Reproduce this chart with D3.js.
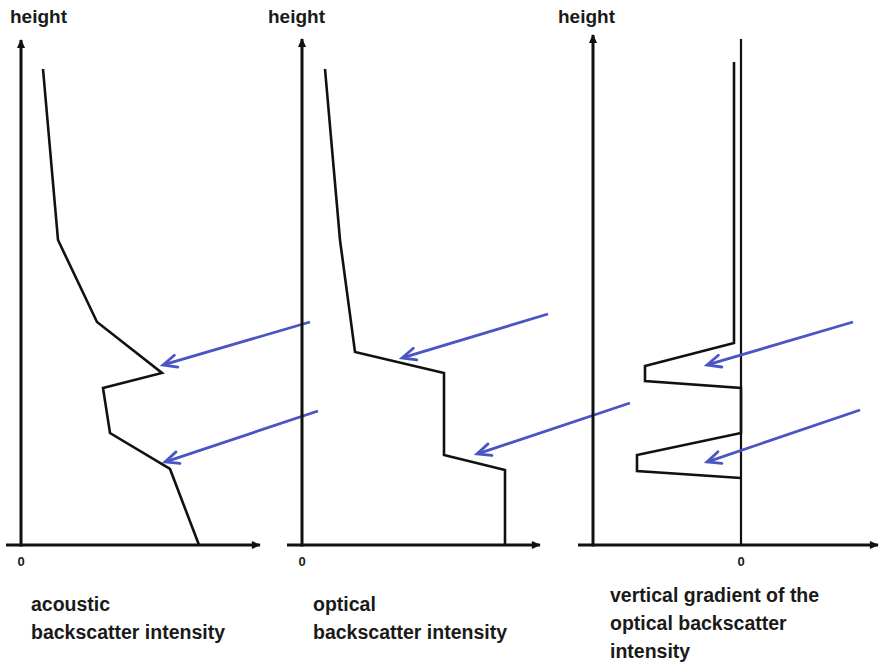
<!DOCTYPE html>
<html>
<head>
<meta charset="utf-8">
<script src="https://cdn.jsdelivr.net/npm/d3@7"></script>
<style>
  html, body { margin: 0; padding: 0; background: #fff; }
  svg { display: block; }
  text { font-family: "Liberation Sans", Arial, sans-serif; fill: #1a1a1a; }
</style>
</head>
<body>
<svg id="chart" width="880" height="663"></svg>
<script>
// Heights (arbitrary units, 0 = ground) and intensities for each profile
const acousticHeight = [95.2, 61, 44.6, 34.4, 31.4, 22.4, 15.2, 0];
const acousticValue  = [11, 18.5, 38, 70.5, 41, 44.5, 74.5, 89];

const opticalHeight = [95.2, 61, 38.6, 34.4, 18, 15, 0];
const opticalValue  = [11.5, 19, 26.5, 71, 71, 101.5, 101.5];

const gradientHeight = [96.6, 40.4, 35.8, 32.8, 31.4, 22.4, 18, 14.8, 13.4];
const gradientValue  = [-3.5, -3.5, -48, -48, 0, 0, -52, -52, 0];

// Arrows marking the layer tops: [tailValue, tailHeight, headValue, headHeight]
const acousticArrows = [[144.5, 44.6, 71, 36], [148.5, 26.8, 72, 16.6]];
const opticalArrows  = [[123, 46.2, 50, 37.4], [164, 28.4, 87.5, 18.2]];
const gradientArrows = [[56, 44.6, -17, 36], [59.5, 27, -17, 16.6]];

const axisTitle = "height";
const zeroLabel = "0";
const acousticLabel = ["acoustic", "backscatter intensity"];
const opticalLabel  = ["optical", "backscatter intensity"];
const gradientLabel = ["vertical gradient of the", "optical backscatter", "intensity"];

const svg = d3.select("#chart");
const BLUE = "#4a55c4";
const INK = "#111";

// shared vertical scale
const y = d3.scaleLinear().domain([0, 100]).range([545, 45]);

// panel layouts: pixel position of value 0, axis extents in value units
const panels = [
  { zero: 21, axisX: 0, xMin: -7.5, xMax: 119.5, yTop: 101,
    h: acousticHeight, v: acousticValue, arrows: acousticArrows,
    label: acousticLabel, labelX: 31, labelY: 611, titleX: 10 },
  { zero: 302, axisX: 0, xMin: -7.5, xMax: 119, yTop: 101.2,
    h: opticalHeight, v: opticalValue, arrows: opticalArrows,
    label: opticalLabel, labelX: 313, labelY: 611, titleX: 268 },
  { zero: 741, axisX: -74, xMin: -81.5, xMax: 68.5, yTop: 102,
    h: gradientHeight, v: gradientValue, arrows: gradientArrows,
    label: gradientLabel, labelX: 610, labelY: 602, titleX: 558, zeroLine: 101.2 }
];

const defs = svg.append("defs");
defs.append("marker")
  .attr("id", "axisHead").attr("viewBox", "0 0 10 10")
  .attr("refX", 9).attr("refY", 5)
  .attr("markerWidth", 10).attr("markerHeight", 9)
  .attr("markerUnits", "userSpaceOnUse")
  .attr("orient", "auto")
  .append("path").attr("d", "M0,0.5 L10,5 L0,9.5 Z").attr("fill", INK);

const line = d3.line();

panels.forEach(p => {
  const x = d3.scaleLinear().domain([0, 100]).range([p.zero, p.zero + 200]);
  const g = svg.append("g");

  // x axis with arrow
  g.append("line")
    .attr("x1", x(p.xMin)).attr("x2", x(p.xMax))
    .attr("y1", y(0)).attr("y2", y(0))
    .attr("stroke", INK).attr("stroke-width", 3)
    .attr("marker-end", "url(#axisHead)");

  // height axis with arrow
  g.append("line")
    .attr("x1", x(p.axisX)).attr("x2", x(p.axisX))
    .attr("y1", y(0) + 1.5).attr("y2", y(p.yTop))
    .attr("stroke", INK).attr("stroke-width", 3)
    .attr("marker-end", "url(#axisHead)");

  // zero reference line (gradient panel)
  if (p.zeroLine) {
    g.append("line")
      .attr("x1", x(0)).attr("x2", x(0))
      .attr("y1", y(0)).attr("y2", y(p.zeroLine))
      .attr("stroke", INK).attr("stroke-width", 2.2);
  }

  // profile
  g.append("path")
    .attr("d", line(p.h.map((h, i) => [x(p.v[i]), y(h)])))
    .attr("fill", "none").attr("stroke", INK)
    .attr("stroke-width", 2.6).attr("stroke-linejoin", "miter");

  // blue arrows
  p.arrows.forEach(a => {
    const x0 = x(a[0]), y0 = y(a[1]), x1 = x(a[2]), y1 = y(a[3]);
    const ang = Math.atan2(y0 - y1, x0 - x1);
    const len = 15, spread = 0.42;
    g.append("line")
      .attr("x1", x0).attr("y1", y0).attr("x2", x1 + Math.cos(ang) * 2).attr("y2", y1 + Math.sin(ang) * 2)
      .attr("stroke", BLUE).attr("stroke-width", 2.8);
    const pts = [
      [x1 + Math.cos(ang + spread) * len, y1 + Math.sin(ang + spread) * len],
      [x1, y1],
      [x1 + Math.cos(ang - spread) * len, y1 + Math.sin(ang - spread) * len]
    ];
    g.append("path")
      .attr("d", d3.line()(pts))
      .attr("fill", "none").attr("stroke", BLUE)
      .attr("stroke-width", 2.8).attr("stroke-linejoin", "miter").attr("stroke-linecap", "round");
  });

  // zero tick label
  g.append("text")
    .attr("x", x(0)).attr("y", 566)
    .attr("text-anchor", "middle")
    .attr("font-size", 13).attr("font-weight", "bold")
    .text(zeroLabel);

  // height title
  g.append("text")
    .attr("x", p.titleX).attr("y", 23)
    .attr("font-size", 19).attr("font-weight", "bold")
    .text(axisTitle);

  // variable label
  g.append("text")
    .attr("font-size", 19.5).attr("font-weight", "bold")
    .selectAll("tspan").data(p.label).join("tspan")
    .attr("x", p.labelX)
    .attr("y", (d, i) => p.labelY + i * 28)
    .text(d => d);
});
</script>
</body>
</html>
